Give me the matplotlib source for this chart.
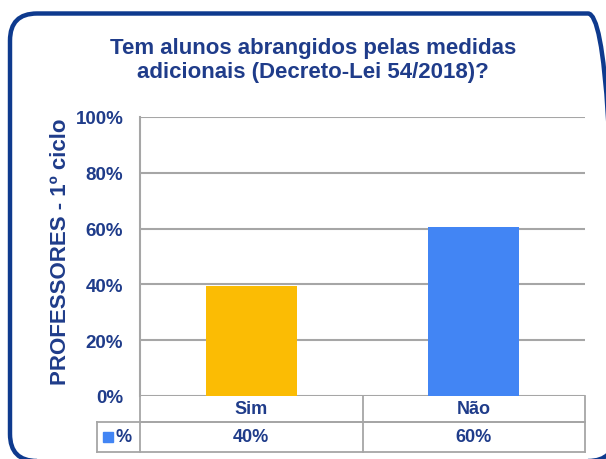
import matplotlib
matplotlib.use("Agg")
import matplotlib.pyplot as plt
from matplotlib.patches import FancyBboxPatch, Rectangle
from matplotlib.lines import Line2D
from matplotlib.transforms import blended_transform_factory

# data
categories = ["Sim", "Não"]
values = [39.5, 60.5]
table_labels = ["40%", "60%"]
bar_colors = ["#FBBC04", "#4285F4"]
yticks = [0, 20, 40, 60, 80, 100]
title = "Tem alunos abrangidos pelas medidas\nadicionais (Decreto-Lei 54/2018)?"
ylabel = "PROFESSORES - 1º ciclo"
series_name = "%"

NAVY = "#1F3C8A"
FRAME = "#0E3A8E"
GRID = "#A6A6A6"

plt.rcParams["font.family"] = ["Liberation Sans", "DejaVu Sans"]
plt.rcParams["font.weight"] = "bold"

W, H = 606, 460
fig = plt.figure(figsize=(W / 100, H / 100), dpi=100)

# plot area in pixels (left, right, top, bottom)
L, R, T, B = 140, 585, 118, 397
ax = fig.add_axes([L / W, 1 - B / H, (R - L) / W, (B - T) / H])

x = list(range(len(categories)))
ax.bar(x, values, width=0.41, color=bar_colors, zorder=3)
ax.set_xlim(-0.5, len(categories) - 0.5)
ax.set_ylim(0, 100)
ax.set_yticks(yticks)
ax.set_yticklabels([f"{v}%" for v in yticks], color=NAVY, fontsize=13.5, fontweight="bold")
ax.tick_params(axis="y", length=0, pad=12)
ax.set_xticks([])
ax.yaxis.grid(True, color=GRID, lw=1.5, zorder=0)
for s in ["top", "right", "bottom"]:
    ax.spines[s].set_visible(False)
ax.spines["left"].set_color(GRID)
ax.spines["left"].set_linewidth(1.5)

ax.set_ylabel(ylabel, color=NAVY, fontsize=16, fontweight="bold")
ax.yaxis.set_label_coords(-0.156, 0.52)

fig.text(313 / W, 1 - 38 / H, title, ha="center", va="top", color=NAVY,
         fontsize=16, fontweight="bold", linespacing=1.18)

# data table under the chart
ah = B - T
r1 = -26 / ah
r2 = -56 / ah
xl = -(L - 97) / (R - L)
tr = blended_transform_factory(ax.transData, ax.transAxes)
ta = ax.transAxes
kw = dict(color=GRID, lw=1.3, clip_on=False, zorder=5)
ax.add_line(Line2D([0, 0], [0, r2], transform=ta, **kw))
ax.add_line(Line2D([1, 1], [0, r2], transform=ta, **kw))
ax.add_line(Line2D([0, 1], [r1, r1], transform=ta, **kw))
ax.add_line(Line2D([xl, 1], [r1, r1], transform=ta, **kw))
ax.add_line(Line2D([xl, 1], [r2, r2], transform=ta, **kw))
ax.add_line(Line2D([xl, xl], [r1, r2], transform=ta, **kw))
for i in range(len(categories) - 1):
    ax.add_line(Line2D([i + 0.5, i + 0.5], [0, r2], transform=tr, **kw))

for i, (c, lab) in enumerate(zip(categories, table_labels)):
    ax.text(i, r1 / 2, c, transform=tr, ha="center", va="center",
            color=NAVY, fontsize=13, fontweight="bold")
    ax.text(i, (r1 + r2) / 2, lab, transform=tr, ha="center", va="center",
            color=NAVY, fontsize=13, fontweight="bold")

# legend key in row label cell
ax.add_patch(Rectangle((xl + 0.013, (r1 + r2) / 2 - 0.018), 0.0225, 0.036,
                       transform=ta, color=bar_colors[1], clip_on=False))
ax.text(xl + 0.041, (r1 + r2) / 2, series_name, transform=ta, ha="left", va="center",
        color=NAVY, fontsize=13, fontweight="bold")

# rounded frame around the whole chart, partly cut off right and bottom
frame = FancyBboxPatch((10, -2), 605, H - 14.5 + 2,
                       boxstyle="round,pad=0,rounding_size=27",
                       transform=None, fc="none", ec=FRAME, lw=3.2)
fig.patches.append(frame)

fig.savefig("out.png", dpi=100)
